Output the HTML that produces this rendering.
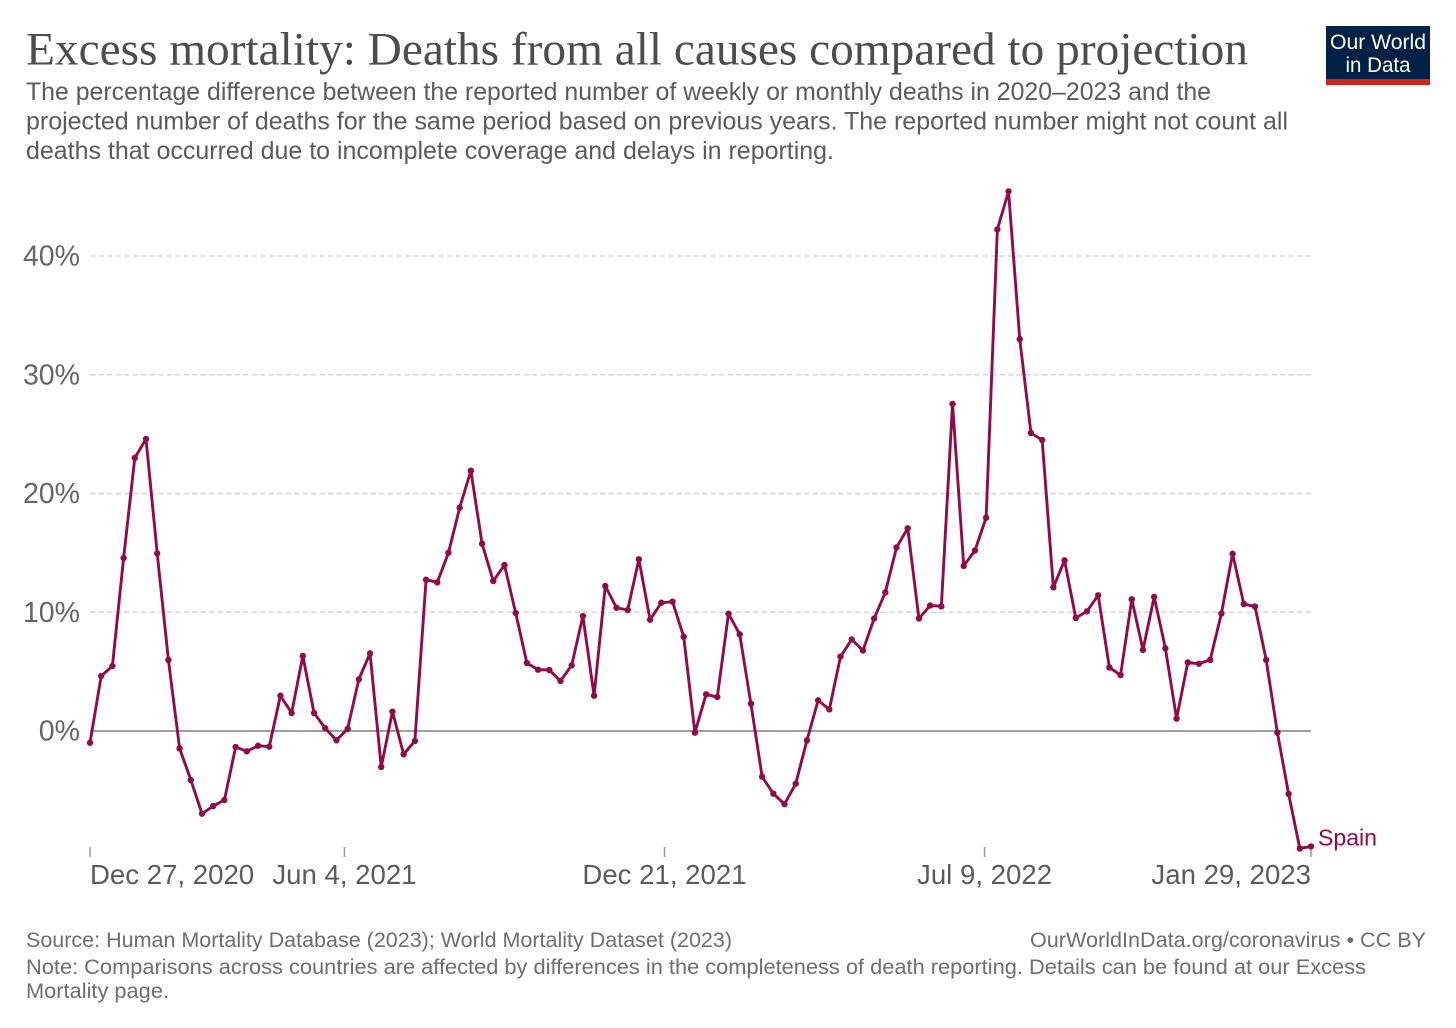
<!DOCTYPE html>
<html lang="en">
<head>
<meta charset="utf-8">
<title>Excess mortality: Deaths from all causes compared to projection</title>
<style>
  html, body { margin: 0; padding: 0; background: #fff; }
  body { width: 1456px; height: 1028px; overflow: hidden; }
  svg { display: block; font-family: "Liberation Sans", Arial, sans-serif; }
  a { text-decoration: none; }
</style>
</head>
<body>
<svg id="chart" width="1456" height="1028" viewBox="0 0 1456 1028" xmlns="http://www.w3.org/2000/svg">
  <rect x="0" y="0" width="1456" height="1028" fill="#ffffff"/>
  <text x="26" y="64.5" font-family="'Liberation Serif', serif" font-size="46.5" fill="#4d4d4d" textLength="1222" lengthAdjust="spacingAndGlyphs">Excess mortality: Deaths from all causes compared to projection</text>
  <g font-size="25" fill="#5b5b5b">
    <text x="26" y="100" textLength="1185" lengthAdjust="spacingAndGlyphs">The percentage difference between the reported number of weekly or monthly deaths in 2020–2023 and the</text>
    <text x="26" y="129.5" textLength="1262" lengthAdjust="spacingAndGlyphs">projected number of deaths for the same period based on previous years. The reported number might not count all</text>
    <text x="26" y="159" textLength="808" lengthAdjust="spacingAndGlyphs">deaths that occurred due to incomplete coverage and delays in reporting.</text>
  </g>
  <g>
    <rect x="1326" y="26" width="104" height="59" fill="#002147"/>
    <rect x="1326" y="79" width="104" height="6" fill="#ce261e"/>
    <text x="1378" y="49" text-anchor="middle" font-size="21" fill="#ffffff" textLength="96" lengthAdjust="spacingAndGlyphs">Our World</text>
    <text x="1378" y="72" text-anchor="middle" font-size="21" fill="#ffffff" textLength="65" lengthAdjust="spacingAndGlyphs">in Data</text>
  </g>
  <g id="grid"></g>
  <g id="yLabels" font-size="28.5" fill="#666666"></g>
  <g id="xAxis" font-size="27.6" fill="#5b5b5b"></g>
  <g id="series"></g>
  <text id="seriesLabel" font-size="23.5" fill="#920b47" x="1318" y="845" textLength="59" lengthAdjust="spacingAndGlyphs">Spain</text>
  <g font-size="21" fill="#6e6e6e">
    <text x="26" y="947" textLength="706" lengthAdjust="spacingAndGlyphs">Source: Human Mortality Database (2023); World Mortality Dataset (2023)</text>
    <text x="1030" y="947" textLength="396" lengthAdjust="spacingAndGlyphs">OurWorldInData.org/coronavirus • CC BY</text>
    <text x="26" y="974" textLength="1340" lengthAdjust="spacingAndGlyphs">Note: Comparisons across countries are affected by differences in the completeness of death reporting. Details can be found at our Excess</text>
    <text x="26" y="998" textLength="143" lengthAdjust="spacingAndGlyphs">Mortality page.</text>
  </g>
</svg>
<script>
const startDate = "2020-12-27";
const seriesName = "Spain";
const spainValues = [
  -0.99, 4.63, 5.47, 14.57, 23.0, 24.59, 14.96, 5.98, -1.46, -4.13,
  -6.96, -6.32, -5.81, -1.35, -1.71, -1.24, -1.32, 2.97, 1.52, 6.32,
  1.52, 0.23, -0.78, 0.19, 4.35, 6.54, -3.03, 1.63, -1.96, -0.84,
  12.74, 12.52, 15.01, 18.8, 21.92, 15.77, 12.63, 13.98, 9.94, 5.73,
  5.16, 5.14, 4.21, 5.53, 9.68, 2.97, 12.21, 10.38, 10.19, 14.46,
  9.37, 10.8, 10.89, 7.94, -0.14, 3.09, 2.86, 9.88, 8.14, 2.3,
  -3.85, -5.27, -6.16, -4.44, -0.79, 2.58, 1.82, 6.27, 7.71, 6.78,
  9.47, 11.67, 15.46, 17.07, 9.47, 10.57, 10.5, 27.54, 13.9, 15.2,
  17.97, 42.24, 45.44, 33.0, 25.1, 24.5, 12.1, 14.37, 9.52, 10.08,
  11.43, 5.35, 4.71, 11.09, 6.83, 11.29, 6.97, 1.04, 5.77, 5.66,
  5.99, 9.89, 14.93, 10.7, 10.48, 5.99, -0.14, -5.29, -9.89, -9.72
];
const yTickValues = [0, 10, 20, 30, 40];
const yTickLabels = ["0%", "10%", "20%", "30%", "40%"];
const xTickDates = ["2020-12-27", "2021-06-04", "2021-12-21", "2022-07-09", "2023-01-29"];
const xTickLabels = ["Dec 27, 2020", "Jun 4, 2021", "Dec 21, 2021", "Jul 9, 2022", "Jan 29, 2023"];

const NS = "http://www.w3.org/2000/svg";
const plotLeft = 90, plotRight = 1311, zeroY = 731, fortyY = 256;
const DAY = 86400000;
const t0 = Date.parse(startDate);
const lastIndex = spainValues.length - 1;

function xIndex(i) { return plotLeft + (plotRight - plotLeft) * i / lastIndex; }
function xDate(d) { return xIndex((Date.parse(d) - t0) / (7 * DAY)); }
function yVal(v) { return zeroY + (fortyY - zeroY) * v / 40; }

const grid = document.getElementById("grid");
const yLabels = document.getElementById("yLabels");
yTickValues.forEach(function (v, i) {
  const line = document.createElementNS(NS, "line");
  
  
  line.setAttribute("x1", plotLeft);
  line.setAttribute("x2", plotRight);
  line.setAttribute("y1", yVal(v));
  line.setAttribute("y2", yVal(v));
  if (v === 0) {
    line.setAttribute("stroke", "#808080");
    line.setAttribute("stroke-width", "1.4");
  } else {
    line.setAttribute("stroke", "#d6d6d6");
    line.setAttribute("stroke-width", "1.4");
    line.setAttribute("stroke-dasharray", "5.5 3");
  }
  grid.appendChild(line);

  const label = document.createElementNS(NS, "text");
  
  
  label.setAttribute("x", 80);
  label.setAttribute("y", yVal(v) + 9.5);
  label.setAttribute("text-anchor", "end");
  label.textContent = yTickLabels[i];
  yLabels.appendChild(label);
});

const xAxis = document.getElementById("xAxis");
xTickDates.forEach(function (d, i) {
  const px = xDate(d);
  const tick = document.createElementNS(NS, "line");
  
  
  tick.setAttribute("x1", px);
  tick.setAttribute("x2", px);
  tick.setAttribute("y1", 847);
  tick.setAttribute("y2", 857);
  tick.setAttribute("stroke", "#999999");
  tick.setAttribute("stroke-width", "1.5");
  xAxis.appendChild(tick);

  const label = document.createElementNS(NS, "text");
  
  
  const anchor = i === 0 ? "start" : (i === xTickDates.length - 1 ? "end" : "middle");
  label.setAttribute("x", px);
  label.setAttribute("y", 884);
  label.setAttribute("text-anchor", anchor);
  label.textContent = xTickLabels[i];
  xAxis.appendChild(label);
});

const series = document.getElementById("series");
const seriesColor = "#920b47";
const path = document.createElementNS(NS, "polyline");


path.setAttribute("points", spainValues.map(function (v, i) { return xIndex(i).toFixed(2) + "," + yVal(v).toFixed(2); }).join(" "));
path.setAttribute("fill", "none");
path.setAttribute("stroke", seriesColor);
path.setAttribute("stroke-width", "2.9");
path.setAttribute("stroke-linejoin", "round");
series.appendChild(path);

spainValues.forEach(function (v, i) {
  const dot = document.createElementNS(NS, "circle");
  
  
  dot.setAttribute("cx", xIndex(i).toFixed(2));
  dot.setAttribute("cy", yVal(v).toFixed(2));
  dot.setAttribute("r", "3.2");
  dot.setAttribute("fill", seriesColor);
  series.appendChild(dot);
});

document.getElementById("seriesLabel").setAttribute("y", yVal(spainValues[lastIndex]) - 1);
document.getElementById("seriesLabel").textContent = seriesName;
</script>
</body>
</html>
